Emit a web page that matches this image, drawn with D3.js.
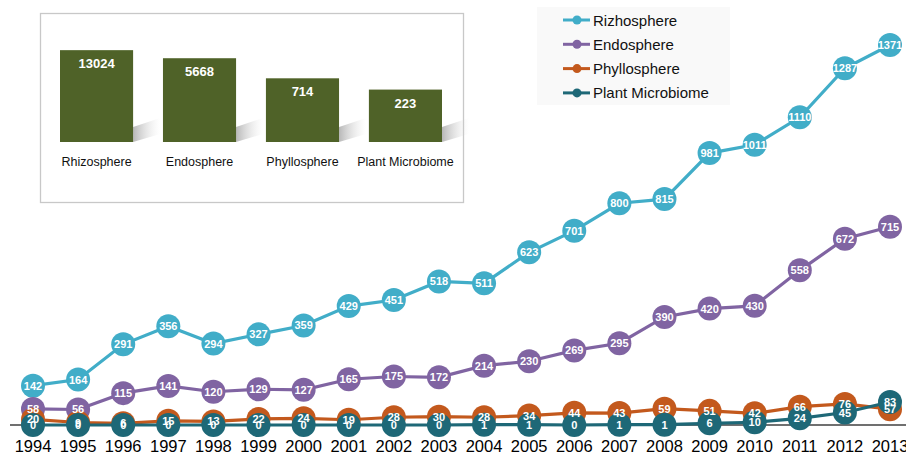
<!DOCTYPE html>
<html>
<head>
<meta charset="utf-8">
<script src="https://cdn.jsdelivr.net/npm/d3@7"></script>
<style>
  body { margin: 0; background: #fff; }
  svg { display: block; font-family: Arial, "Liberation Sans", sans-serif; }
  .pt-label { fill: #fff; font-weight: bold; font-size: 11px; text-anchor: middle; }
  .year { font-size: 16.5px; fill: #000; text-anchor: middle; }
</style>
</head>
<body>
<div class="chart"></div>
<script>
const years = d3.range(1994, 2014);
const rhizosphere = [142, 164, 291, 356, 294, 327, 359, 429, 451, 518, 511, 623, 701, 800, 815, 981, 1011, 1110, 1287, 1371];
const endosphere = [58, 56, 115, 141, 120, 129, 127, 165, 175, 172, 214, 230, 269, 295, 390, 420, 430, 558, 672, 715];
const phyllosphere = [20, 9, 6, 15, 13, 22, 24, 19, 28, 30, 28, 34, 44, 43, 59, 51, 42, 66, 76, 57];
const microbiome = [0, 0, 0, 0, 0, 0, 0, 0, 0, 0, 1, 1, 0, 1, 1, 6, 10, 24, 45, 83];

const seriesNames = ['Rizhosphere', 'Endosphere', 'Phyllosphere', 'Plant Microbiome'];
const seriesColors = ['#41adc8', '#8064a2', '#c3591d', '#1e6877'];

const totalsNames = ['Rhizosphere', 'Endosphere', 'Phyllosphere', 'Plant Microbiome'];
const totals = [13024, 5668, 714, 223];

const width = 906;
const height = 456;

const series = [rhizosphere, endosphere, phyllosphere, microbiome].map((vals, i) => ({
    name: seriesNames[i],
    color: seriesColors[i],
    values: vals.map((v, j) => ({ year: years[j], value: v }))
}));

const svg = d3.select('.chart').append('svg').attr('width', width).attr('height', height);

const xScale = d3.scalePoint().domain(years).range([33, 890]);
const yScale = d3.scaleLinear().domain([0, 1371]).range([425, 45]);

// baseline
svg.append('line')
    .attr('x1', 10).attr('x2', width)
    .attr('y1', yScale(0)).attr('y2', yScale(0))
    .attr('stroke', '#404040').attr('stroke-width', 1.3);

// year labels
svg.selectAll('text.year').data(years).join('text')
    .attr('class', 'year')
    .attr('x', (d) => xScale(d))
    .attr('y', 452)
    .text((d) => d);

const line = d3.line().x((d) => xScale(d.year)).y((d) => yScale(d.value));

const group = svg.selectAll('g.series').data(series).join('g').attr('class', 'series');

group.append('path')
    .attr('d', (d) => line(d.values))
    .attr('fill', 'none')
    .attr('stroke', (d) => d.color)
    .attr('stroke-width', 3.2);

group.selectAll('circle')
    .data((d) => d.values.map((v) => ({ ...v, color: d.color })))
    .join('circle')
    .attr('cx', (d) => xScale(d.year))
    .attr('cy', (d) => yScale(d.value))
    .attr('r', 12)
    .attr('fill', (d) => d.color);

// value labels on top of all markers
series.forEach((s) => {
    svg.append('g').selectAll('text').data(s.values).join('text')
        .attr('class', 'pt-label')
        .attr('x', (d) => xScale(d.year))
        .attr('y', (d) => yScale(d.value) + 4)
        .text((d) => d.value);
});

// legend
const legend = svg.append('g').attr('transform', 'translate(537,7)');
legend.append('rect').attr('width', 193).attr('height', 98).attr('fill', '#f9f9f9');
const item = legend.selectAll('g.item').data(series).join('g')
    .attr('class', 'item')
    .attr('transform', (d, i) => `translate(0,${13 + i * 24.3})`);
item.append('line').attr('x1', 26).attr('x2', 53)
    .attr('stroke', (d) => d.color).attr('stroke-width', 3);
item.append('circle').attr('cx', 40).attr('r', 4.5).attr('fill', (d) => d.color);
item.append('text').attr('x', 56).attr('y', 5.5)
    .attr('font-size', '15px').attr('fill', '#111')
    .text((d) => d.name);

// inset bar chart (log scale)
const inset = svg.append('g');
inset.append('rect')
    .attr('x', 40.5).attr('y', 13.5).attr('width', 423).attr('height', 189)
    .attr('fill', '#fff').attr('stroke', '#c8c8c8').attr('stroke-width', 1.3);

const defs = svg.append('defs');
const grad = defs.append('linearGradient').attr('id', 'shadow').attr('x1', 0).attr('x2', 1).attr('y1', 0).attr('y2', 0);
grad.append('stop').attr('offset', 0).attr('stop-color', '#999').attr('stop-opacity', 0.7);
grad.append('stop').attr('offset', 1).attr('stop-color', '#ddd').attr('stop-opacity', 0);

const bx = d3.scaleBand().domain(totalsNames).range([60, 442]).paddingInner(0.29).paddingOuter(0);
const by = d3.scaleLog().domain([1, 20000]).range([142, 46]);
const barW = bx.bandwidth();

const bar = inset.selectAll('g.bar').data(totalsNames.map((n, i) => ({ name: n, value: totals[i] }))).join('g').attr('class', 'bar');

bar.append('polygon')
    .attr('points', (d) => {
        const r = bx(d.name) + barW;
        const b = by(1);
        return `${r},${b} ${r},${b - 15} ${r + 27},${b - 24} ${r + 27},${b - 8}`;
    })
    .attr('fill', 'url(#shadow)');

bar.append('rect')
    .attr('x', (d) => bx(d.name))
    .attr('y', (d) => by(d.value))
    .attr('width', barW)
    .attr('height', (d) => by(1) - by(d.value))
    .attr('fill', '#4f6228');

bar.append('text')
    .attr('x', (d) => bx(d.name) + barW / 2)
    .attr('y', (d) => by(d.value) + 18)
    .attr('text-anchor', 'middle')
    .attr('fill', '#fff').attr('font-weight', 'bold').attr('font-size', '13px')
    .text((d) => d.value);

bar.append('text')
    .attr('x', (d) => bx(d.name) + barW / 2)
    .attr('y', 166)
    .attr('text-anchor', 'middle')
    .attr('fill', '#111').attr('font-size', '12.5px')
    .text((d) => d.name);
</script>
</body>
</html>
